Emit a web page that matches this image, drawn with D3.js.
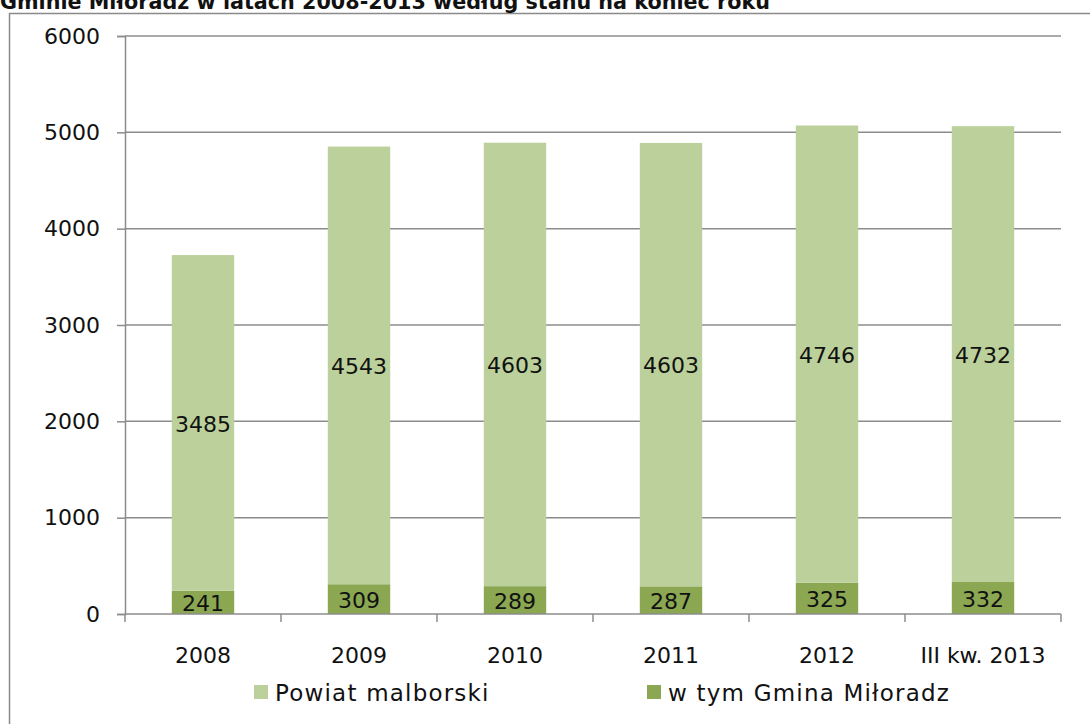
<!DOCTYPE html>
<html>
<head>
<meta charset="utf-8">
<script src="https://cdn.jsdelivr.net/npm/d3@7"></script>
<style>
  body { margin: 0; background: #fff; }
  text { font-family: "DejaVu Sans", sans-serif; fill: #111; }
</style>
</head>
<body>
<svg></svg>
<script>
// Data
const categories = ["2008", "2009", "2010", "2011", "2012", "III kw. 2013"];
const gmina = [241, 309, 289, 287, 325, 332];
const powiat = [3485, 4543, 4603, 4603, 4746, 4732];
const yTicks = [0, 1000, 2000, 3000, 4000, 5000, 6000];
const seriesNames = ["Powiat malborski", "w tym Gmina Miłoradz"];

const width = 1090;
const height = 724;
const margin = { top: 36, right: 29, bottom: 110, left: 125 };
const fontSize = "22px";

const svg = d3.select("svg")
  .attr("width", width)
  .attr("height", height);

const chartWidth = width - margin.left - margin.right;
const chartHeight = height - margin.top - margin.bottom;

// outer frame (cut off by the window on the right/bottom)
svg.append("rect")
  .attr("x", 9.5).attr("y", 13.5)
  .attr("width", 1200).attr("height", 800)
  .attr("fill", "none")
  .attr("stroke", "#8a8a8a")
  .attr("stroke-width", 1.5);

// Title (partly above the window)
svg.append("text")
  .attr("x", 0)
  .attr("y", 9)
  .attr("textLength", 770)
  .attr("lengthAdjust", "spacingAndGlyphs")
  .style("font-size", "22px")
  .style("font-weight", "bold")
  .text("Gminie Miłoradz w latach 2008-2013 według stanu na koniec roku");

const chart = svg.append("g")
  .attr("transform", `translate(${margin.left}, ${margin.top})`);

const x = d3.scaleBand()
  .domain(categories)
  .range([0, chartWidth])
  .paddingInner(0.6)
  .paddingOuter(0.3);

const xEdges = d3.scaleLinear()
  .domain([0, categories.length])
  .range([0, chartWidth]);

const y = d3.scaleLinear()
  .domain([0, 6000])
  .range([chartHeight, 0]);

// Gridlines
chart.append("g")
  .selectAll("line")
  .data(yTicks.slice(1))
  .enter()
  .append("line")
  .attr("x1", 0)
  .attr("x2", chartWidth)
  .attr("y1", d => y(d))
  .attr("y2", d => y(d))
  .attr("stroke", "#8c8c8c")
  .attr("stroke-width", 1.5);

// Y axis
const yAxis = chart.append("g")
  .call(d3.axisLeft(y).tickValues(yTicks).tickFormat(d3.format("d")).tickSize(8).tickPadding(17));
yAxis.select(".domain").attr("stroke", "#8c8c8c").attr("stroke-width", 1.5);
yAxis.selectAll(".tick line").attr("stroke", "#8c8c8c").attr("stroke-width", 1.5);
yAxis.selectAll(".tick text")
  .style("font-family", "'DejaVu Sans', sans-serif")
  .style("font-size", fontSize)
  .attr("fill", "#111");

// Stacked bars
const stackData = categories.map((c, i) => ({ cat: c, gmina: gmina[i], powiat: powiat[i] }));
const stacked = d3.stack().keys(["gmina", "powiat"])(stackData);
const colors = { gmina: "#8ba752", powiat: "#bbd09a" };

stacked.forEach(layer => {
  chart.append("g")
    .selectAll("rect")
    .data(layer)
    .enter()
    .append("rect")
    .attr("x", d => x(d.data.cat))
    .attr("y", d => y(d[1]))
    .attr("width", x.bandwidth())
    .attr("height", d => y(d[0]) - y(d[1]))
    .attr("fill", colors[layer.key]);

  chart.append("g")
    .selectAll("text")
    .data(layer)
    .enter()
    .append("text")
    .attr("x", d => x(d.data.cat) + x.bandwidth() / 2)
    .attr("y", d => y((d[0] + d[1]) / 2))
    .attr("dy", "0.4em")
    .attr("text-anchor", "middle")
    .style("font-size", fontSize)
    .text(d => d.data[layer.key]);
});

// X axis line and ticks at band edges
chart.append("line")
  .attr("x1", 0).attr("x2", chartWidth)
  .attr("y1", chartHeight).attr("y2", chartHeight)
  .attr("stroke", "#8c8c8c").attr("stroke-width", 1.5);

chart.append("g")
  .selectAll("line")
  .data(d3.range(categories.length + 1))
  .enter()
  .append("line")
  .attr("x1", d => xEdges(d)).attr("x2", d => xEdges(d))
  .attr("y1", chartHeight).attr("y2", chartHeight + 8)
  .attr("stroke", "#8c8c8c").attr("stroke-width", 1.5);

chart.append("g")
  .selectAll("text")
  .data(categories)
  .enter()
  .append("text")
  .attr("x", d => x(d) + x.bandwidth() / 2)
  .attr("y", chartHeight + 49)
  .attr("text-anchor", "middle")
  .style("font-size", fontSize)
  .text(d => d);

// Legend
const legendItems = [
  { name: seriesNames[0], color: colors.powiat, x: 254 },
  { name: seriesNames[1], color: colors.gmina, x: 647 }
];
const legend = svg.append("g");
legendItems.forEach(item => {
  legend.append("rect")
    .attr("x", item.x).attr("y", 685)
    .attr("width", 14).attr("height", 14)
    .attr("fill", item.color);
  legend.append("text")
    .attr("x", item.x + 21)
    .attr("y", 701)
    .style("font-size", "23px")
    .style("letter-spacing", "1.2px")
    .text(item.name);
});
</script>
</body>
</html>
